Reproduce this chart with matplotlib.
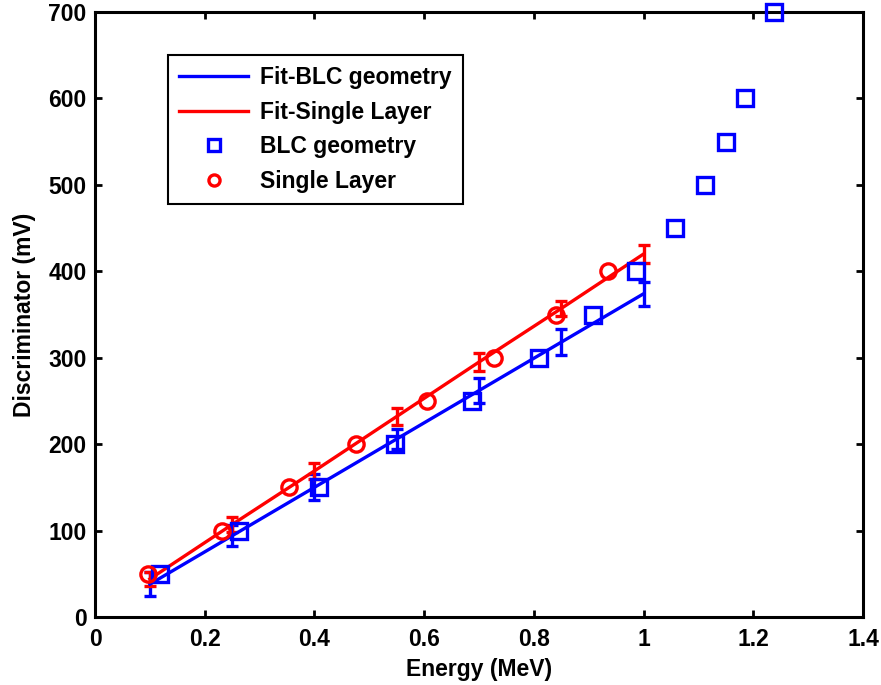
import numpy as np
import matplotlib.pyplot as plt
from matplotlib.lines import Line2D

# measured points: discriminator threshold vs deposited energy
blc_energy = [0.118, 0.263, 0.409, 0.546, 0.688, 0.809, 0.908, 0.986,
              1.057, 1.112, 1.150, 1.185, 1.237]
blc_disc = [50, 100, 150, 200, 250, 300, 350, 400, 450, 500, 550, 600, 700]

single_energy = [0.096, 0.232, 0.354, 0.475, 0.605, 0.727, 0.840, 0.936]
single_disc = [50, 100, 150, 200, 250, 300, 350, 400]

# linear fits evaluated on a grid, with their uncertainty
fit_energy = [0.1, 0.25, 0.4, 0.55, 0.7, 0.85, 1.0]
fit_blc = [38, 94, 150, 206, 262, 318, 374]
fit_blc_err = [14, 12, 15, 12, 14, 15, 14]
fit_single = [44, 107, 169, 232, 295, 357, 420]
fit_single_err = [8, 9, 9, 10, 10, 9, 10]

plt.rcParams['font.family'] = ['Liberation Sans', 'DejaVu Sans']
plt.rcParams['font.weight'] = 'bold'

fig = plt.figure(figsize=(8.81, 6.85), dpi=100)
ax = fig.add_axes([95/881, (685-617)/685, (863-95)/881, (617-12)/685])

ax.errorbar(fit_energy, fit_blc, yerr=fit_blc_err, color='#0000ff', lw=2.4,
            elinewidth=2.4, capsize=4, capthick=2.4, zorder=2)
ax.errorbar(fit_energy, fit_single, yerr=fit_single_err, color='#ff0000', lw=2.4,
            elinewidth=2.4, capsize=4, capthick=2.4, zorder=2)
ax.plot(blc_energy, blc_disc, 's', ms=11, mfc='none', mec='#0000ff', mew=2.4,
        zorder=3, clip_on=False)
ax.plot(single_energy, single_disc, 'o', ms=11, mfc='none', mec='#ff0000', mew=2.4,
        zorder=3)

ax.set_xlim(0, 1.4)
ax.set_ylim(0, 700)
ax.set_xticks(np.arange(0, 1.41, 0.2))
ax.set_xticklabels(['0', '0.2', '0.4', '0.6', '0.8', '1', '1.2', '1.4'])
ax.set_yticks(np.arange(0, 701, 100))
ax.tick_params(direction='in', top=True, right=True, length=5, width=2,
               labelsize=16.5)
ax.tick_params(axis='x', pad=8)
ax.tick_params(axis='y', pad=6)
for s in ax.spines.values():
    s.set_linewidth(2.2)

ax.set_xlabel('Energy (MeV)', fontsize=16.5, fontweight='bold', labelpad=5)
ax.set_ylabel('Discriminator (mV)', fontsize=16.5, fontweight='bold', labelpad=9)

handles = [
    Line2D([], [], color='#0000ff', lw=2.4),
    Line2D([], [], color='#ff0000', lw=2.4),
    Line2D([], [], ls='none', marker='s', ms=8, mfc='none', mec='#0000ff', mew=2.4),
    Line2D([], [], ls='none', marker='o', ms=8, mfc='none', mec='#ff0000', mew=2.4),
]
leg = ax.legend(handles, ['Fit-BLC geometry', 'Fit-Single Layer', 'BLC geometry', 'Single Layer'],
                loc='upper left', bbox_to_anchor=(0.095, 0.929), borderaxespad=0,
                fontsize=16.5, frameon=True, fancybox=False, edgecolor='black',
                framealpha=1, handlelength=3.0, borderpad=0.5, labelspacing=0.5,
                handletextpad=0.5)
leg.get_frame().set_linewidth(1.5)

fig.savefig('out.png', dpi=100)
